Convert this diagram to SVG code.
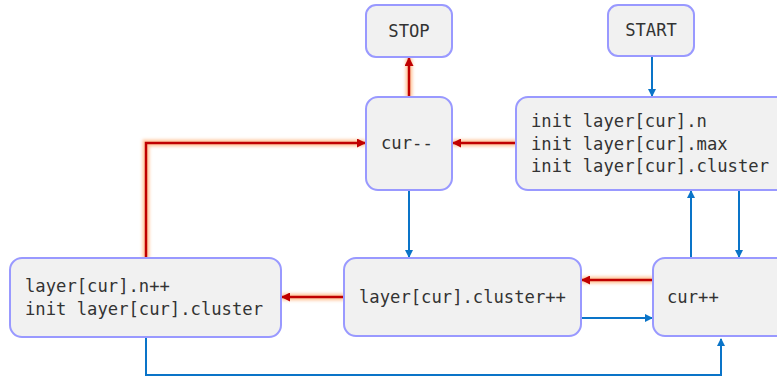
<svg xmlns="http://www.w3.org/2000/svg" width="777" height="381" viewBox="0 0 777 381">
<defs>
<style>
.box{fill:#f1f1f1;stroke:#9999ff;stroke-width:2}
.t{font-family:"DejaVu Sans Mono","Liberation Mono",monospace;font-size:17.2px;fill:#333}
.blue{fill:none;stroke:#0a74c8;stroke-width:2}
.red{fill:none;stroke:#c00000;stroke-width:2.5}
.glow{fill:none;stroke:#ff9a50;stroke-width:7;stroke-opacity:0.55;filter:url(#blur)}
</style>
<filter id="blur" filterUnits="userSpaceOnUse" x="0" y="0" width="777" height="381"><feGaussianBlur stdDeviation="1.5"/></filter>
<marker id="ab" markerWidth="8" markerHeight="8" refX="7" refY="4" orient="auto" markerUnits="userSpaceOnUse"><path d="M0,0 L8,4 L0,8 Z" fill="#0a74c8"/></marker>
<marker id="ar" markerWidth="9" markerHeight="9" refX="8" refY="4.5" orient="auto" markerUnits="userSpaceOnUse"><path d="M0,0 L9,4.5 L0,9 Z" fill="#c00000"/></marker>
</defs>
<g id="connectors">
<g id="glows">
<path class="glow" d="M409,97 V58"/>
<path class="glow" d="M516,143 H453"/>
<path class="glow" d="M146,258 V143 H365"/>
<path class="glow" d="M653,280 H582"/>
<path class="glow" d="M344,297 H282"/>
</g>
<path class="red" marker-end="url(#ar)" d="M409,97 V58"/>
<path class="red" marker-end="url(#ar)" d="M516,143 H453"/>
<path class="red" marker-end="url(#ar)" d="M146,258 V143 H365"/>
<path class="red" marker-end="url(#ar)" d="M653,280 H582"/>
<path class="red" marker-end="url(#ar)" d="M344,297 H282"/>
<path class="blue" marker-end="url(#ab)" d="M652,56 V96"/>
<path class="blue" marker-end="url(#ab)" d="M409,190 V257"/>
<path class="blue" marker-end="url(#ab)" d="M691,258 V191"/>
<path class="blue" marker-end="url(#ab)" d="M739,190 V257"/>
<path class="blue" marker-end="url(#ab)" d="M578,318 H652"/>
<path class="blue" marker-end="url(#ab)" d="M146,337 V375 H721 V339"/>
</g>
<g id="stop"><rect class="box" x="366" y="5" width="86" height="52" rx="10"/><text class="t" x="409" y="37" text-anchor="middle">STOP</text></g>
<g id="start"><rect class="box" x="608" y="5" width="86" height="51" rx="10"/><text class="t" x="651" y="36" text-anchor="middle">START</text></g>
<g id="curdec"><rect class="box" x="366" y="97" width="86" height="93" rx="12"/><text class="t" x="381" y="149">cur--</text></g>
<g id="init"><rect class="box" x="516" y="97" width="275" height="93" rx="12"/>
<text class="t" x="531" y="127">init layer[cur].n</text>
<text class="t" x="531" y="150">init layer[cur].max</text>
<text class="t" x="531" y="172">init layer[cur].cluster</text></g>
<g id="ninc"><rect class="box" x="10" y="258" width="271" height="79" rx="12"/>
<text class="t" x="25" y="292">layer[cur].n++</text>
<text class="t" x="25" y="315">init layer[cur].cluster</text></g>
<g id="clinc"><rect class="box" x="344" y="258" width="237" height="78" rx="12"/><text class="t" x="359" y="303">layer[cur].cluster++</text></g>
<g id="curinc"><rect class="box" x="653" y="258" width="140" height="78" rx="12"/><text class="t" x="667" y="303">cur++</text></g>
</svg>
